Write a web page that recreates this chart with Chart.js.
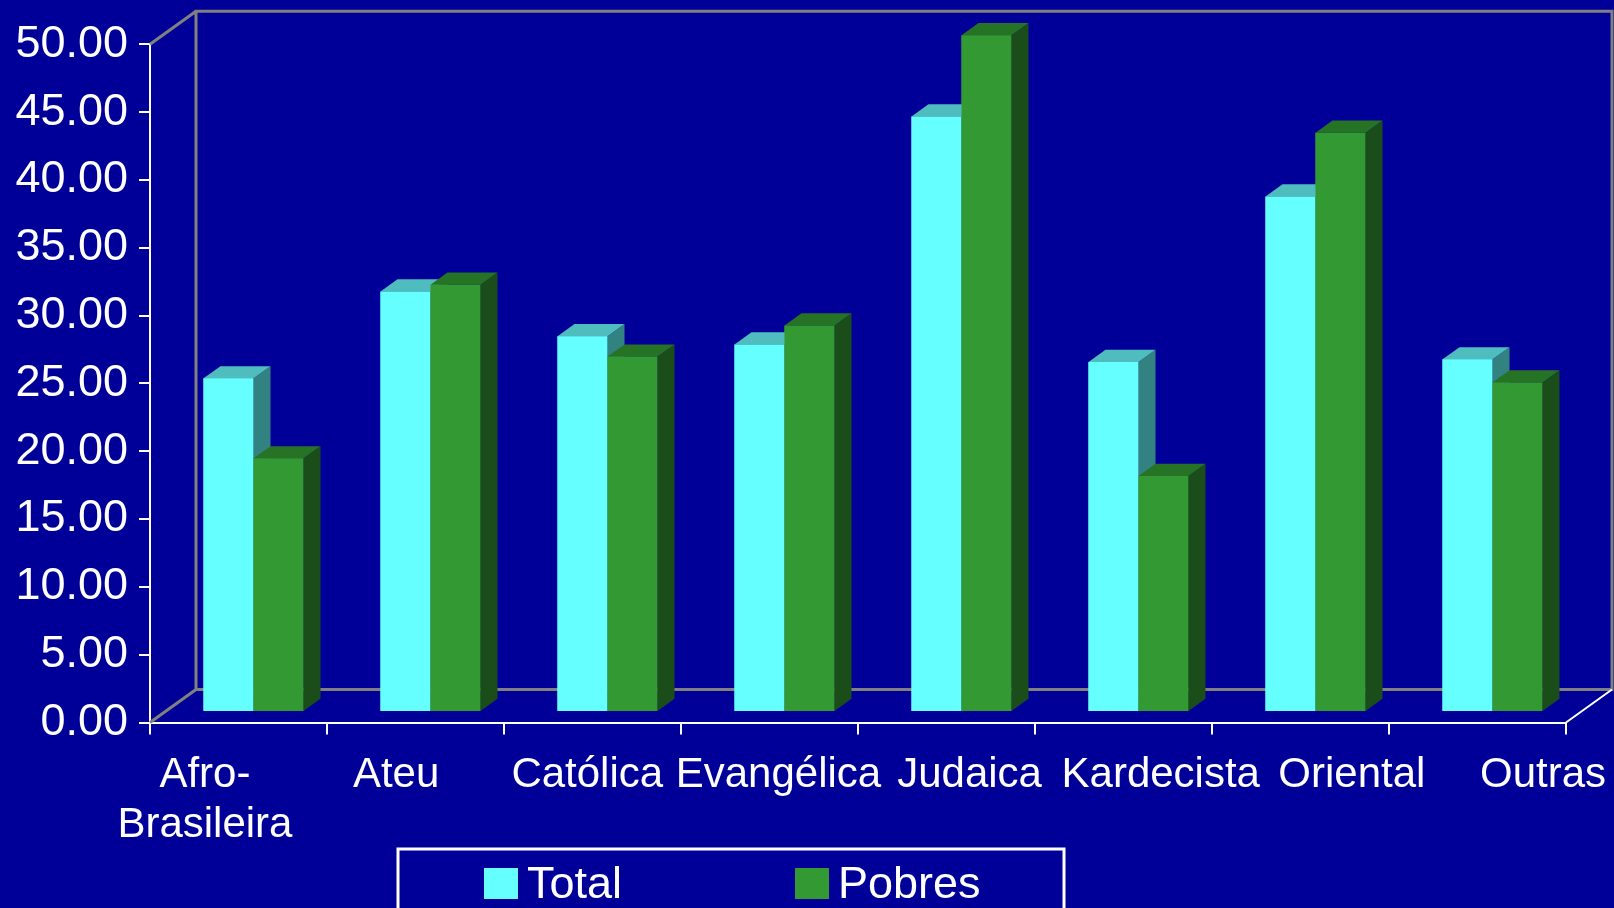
<!DOCTYPE html>
<html lang="pt">
<head>
  <meta charset="UTF-8" />
  <title>Religião - Total e Pobres</title>
  <script src="https://cdn.jsdelivr.net/npm/chart.js"></script>
  <style>
    body {
      margin: 0;
      background: #000099;
    }

    .wrap {
      position: relative;
      width: 1614px;
      height: 908px;
    }
  </style>
</head>
<body>
  <div class="wrap"><canvas id="religionChart"></canvas></div>

  <script>
    const categories = [['Afro-', 'Brasileira'], 'Ateu', 'Católica', 'Evangélica', 'Judaica', 'Kardecista', 'Oriental', 'Outras'];
    const totalValues = [24.6, 31.0, 27.7, 27.1, 43.9, 25.8, 38.0, 26.0];
    const pobresValues = [18.7, 31.5, 26.2, 28.5, 49.9, 17.4, 42.7, 24.3];
    const seriesNames = ['Total', 'Pobres'];
    const yMin = 0;
    const yMax = 50;
    const yStep = 5;

    // fake 3D: oblique offsets in pixels
    const WALL_DX = 46, WALL_DY = -33;      // back wall behind the axis plane
    const FRONT_DX = 15, FRONT_DY = -10.5;  // bars stand a bit behind the axes
    const BAR_DX = 17, BAR_DY = -12.2;      // bar depth

    const FONT = '"Liberation Sans", Arial, sans-serif';

    function fillPoly(ctx, pts) {
      ctx.beginPath();
      ctx.moveTo(pts[0][0], pts[0][1]);
      for (let i = 1; i < pts.length; i++) ctx.lineTo(pts[i][0], pts[i][1]);
      ctx.closePath();
      ctx.fill();
    }

    const box3d = {
      id: 'box3d',

      beforeDatasetsDraw(chart) {
        const { ctx, chartArea: a } = chart;
        ctx.save();
        ctx.strokeStyle = '#808080';
        ctx.lineWidth = 3;
        ctx.beginPath();
        // back wall + floor back edge
        ctx.moveTo(a.left + WALL_DX, a.bottom + WALL_DY);
        ctx.lineTo(a.left + WALL_DX, a.top + WALL_DY);
        ctx.lineTo(a.right + WALL_DX, a.top + WALL_DY);
        ctx.lineTo(a.right + WALL_DX, a.bottom + WALL_DY);
        ctx.lineTo(a.left + WALL_DX, a.bottom + WALL_DY);
        // left depth edges
        ctx.moveTo(a.left, a.top);
        ctx.lineTo(a.left + WALL_DX, a.top + WALL_DY);
        ctx.moveTo(a.left, a.bottom);
        ctx.lineTo(a.left + WALL_DX, a.bottom + WALL_DY);
        ctx.stroke();

        // right floor edge is white like the category axis
        ctx.strokeStyle = '#ffffff';
        ctx.lineWidth = 2;
        ctx.beginPath();
        ctx.moveTo(a.right, a.bottom);
        ctx.lineTo(a.right + WALL_DX, a.bottom + WALL_DY);
        ctx.stroke();
        ctx.restore();
      },

      beforeDatasetDraw(chart) {
        chart.ctx.save();
        chart.ctx.translate(FRONT_DX, FRONT_DY);
      },

      afterDatasetDraw(chart) {
        chart.ctx.restore();
      },

      // chart.js paints the last dataset first, so repaint the boxes left to right
      afterDatasetsDraw(chart) {
        const ctx = chart.ctx;
        ctx.save();
        ctx.translate(FRONT_DX, FRONT_DY);
        chart.data.datasets.forEach((ds, di) => {
          chart.getDatasetMeta(di).data.forEach(bar => {
            const { x, y, base, width } = bar.getProps(['x', 'y', 'base', 'width'], true);
            const l = x - width / 2;
            const r = x + width / 2;
            bar.draw(ctx);
            ctx.fillStyle = ds.sideColor;
            fillPoly(ctx, [[r, y], [r + BAR_DX, y + BAR_DY], [r + BAR_DX, base + BAR_DY], [r, base]]);
            ctx.fillStyle = ds.topColor;
            fillPoly(ctx, [[l, y], [l + BAR_DX, y + BAR_DY], [r + BAR_DX, y + BAR_DY], [r, y]]);
          });
        });
        ctx.restore();
      },

      afterDraw(chart) {
        const { ctx, chartArea: a } = chart;
        const xs = chart.scales.x;
        const mid = (xs.left + xs.right) / 2;

        ctx.save();
        ctx.fillStyle = '#ffffff';
        ctx.textAlign = 'center';
        ctx.textBaseline = 'alphabetic';
        ctx.font = '42px ' + FONT;

        // category labels are spread a little wider than the bars, like the original
        categories.forEach((label, i) => {
          const p = xs.getPixelForValue(i);
          const cx = mid + (p - mid) * 1.08 + 16;
          const lines = Array.isArray(label) ? label : [label];
          lines.forEach((line, k) => ctx.fillText(line, cx, a.bottom + 64 + k * 50));
        });

        // legend box
        ctx.strokeStyle = '#ffffff';
        ctx.lineWidth = 3;
        ctx.strokeRect(398, 849, 666, 120);

        ctx.font = '45px ' + FONT;
        ctx.textAlign = 'left';
        const itemX = [484, 795];
        chart.data.datasets.forEach((ds, i) => {
          ctx.fillStyle = ds.backgroundColor;
          ctx.fillRect(itemX[i], 868, 34, 31);
          ctx.fillStyle = '#ffffff';
          ctx.fillText(ds.label, itemX[i] + 43, 897.5);
        });
        ctx.restore();
      }
    };

    new Chart(document.getElementById('religionChart'), {
      type: 'bar',
      data: {
        labels: categories,
        datasets: [
          {
            label: seriesNames[0],
            data: totalValues,
            backgroundColor: '#66FFFF',
            topColor: '#4FBDBD',
            sideColor: '#338282',
            borderWidth: 0,
            clip: false
          },
          {
            label: seriesNames[1],
            data: pobresValues,
            backgroundColor: '#339933',
            topColor: '#267326',
            sideColor: '#1B4D1B',
            borderWidth: 0,
            clip: false
          }
        ]
      },
      options: {
        responsive: true,
        maintainAspectRatio: false,
        animation: false,
        categoryPercentage: 0.565,
        barPercentage: 1.0,
        layout: {
          padding: { top: 44.3, right: 48, left: 0, bottom: 0 }
        },
        plugins: {
          legend: { display: false },
          tooltip: { enabled: false }
        },
        scales: {
          x: {
            ticks: { display: false },
            grid: {
              drawOnChartArea: false,
              drawTicks: true,
              tickLength: 12,
              color: '#ffffff',
              lineWidth: 2,
              offset: true
            },
            border: { color: '#ffffff', width: 2 },
            afterFit(scale) { scale.height = 908 - 722.5; }
          },
          y: {
            min: yMin,
            max: yMax,
            ticks: {
              stepSize: yStep,
              color: '#ffffff',
              padding: 11,
              font: { family: FONT, size: 45 },
              callback: v => v.toFixed(2)
            },
            grid: {
              drawOnChartArea: false,
              drawTicks: true,
              tickLength: 11,
              color: '#ffffff',
              lineWidth: 2
            },
            border: { color: '#ffffff', width: 2 },
            afterFit(scale) { scale.width = 150; }
          }
        }
      },
      plugins: [box3d]
    });
  </script>
</body>
</html>
